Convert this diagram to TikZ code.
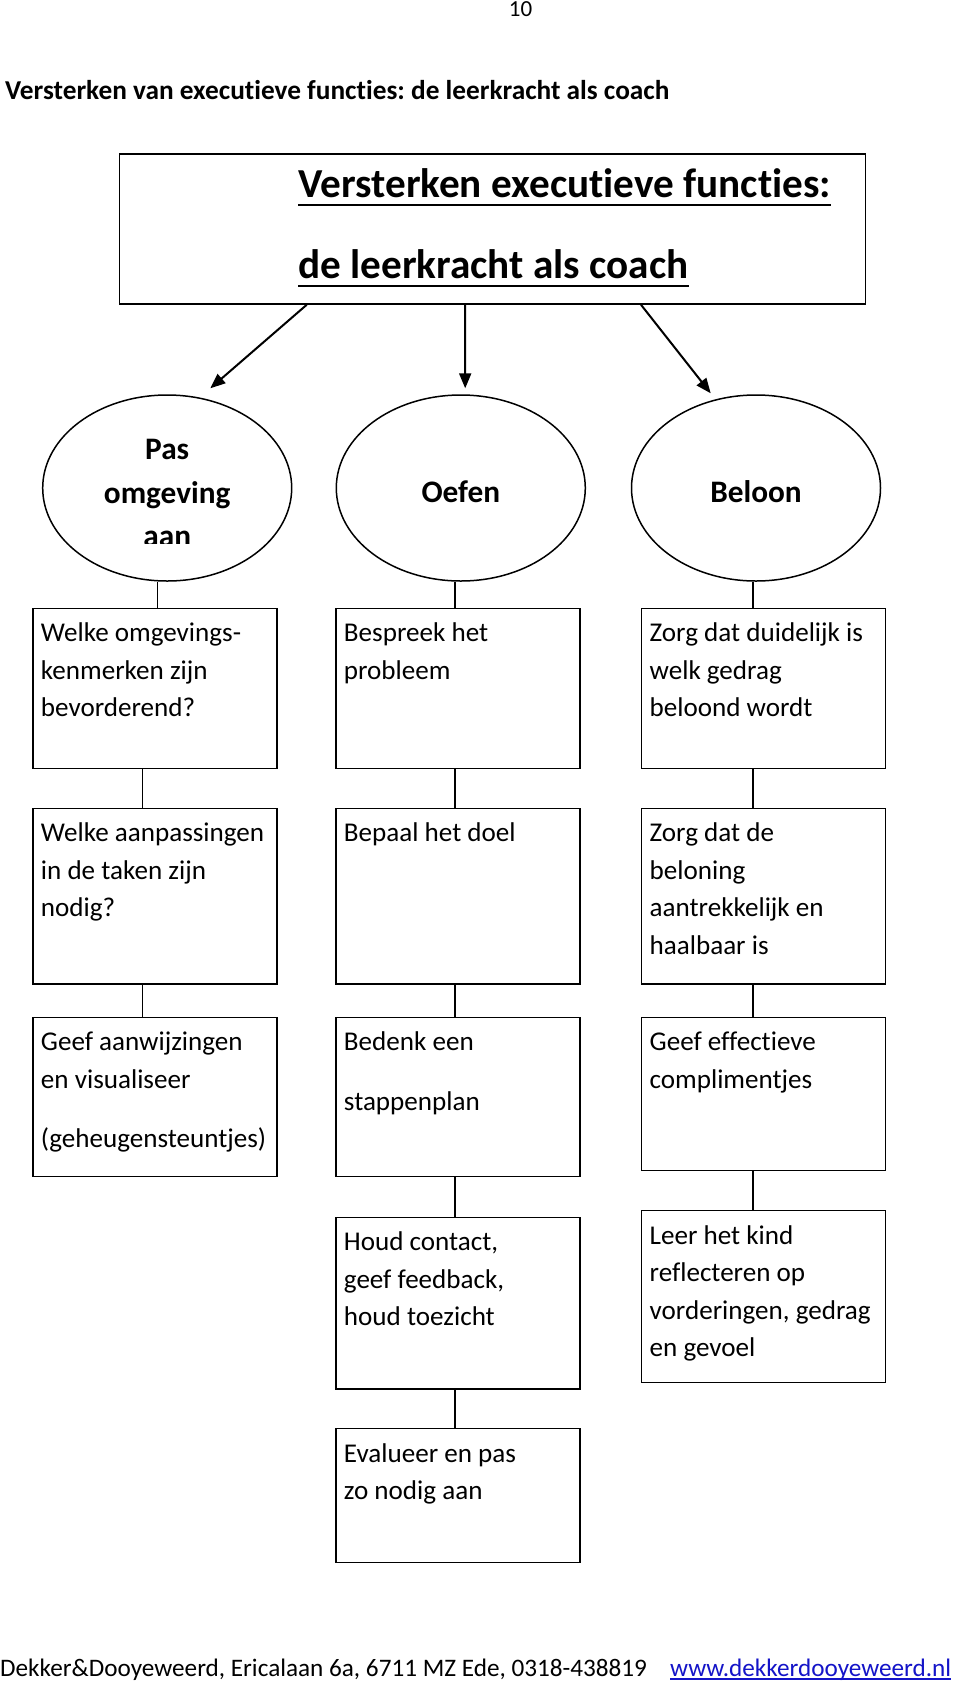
\documentclass[tikz,border=0pt]{standalone}
\usepackage{fontspec}
\setmainfont{Carlito}[Ligatures={NoCommon}]
\usetikzlibrary{arrows.meta,shapes.geometric}
\definecolor{linkblue}{RGB}{20,20,200}
\frenchspacing
\begin{document}
\begin{tikzpicture}[x=1pt,y=-1pt,
  box/.style={draw, line width=1.5pt, rectangle, inner sep=0pt, minimum width=244pt},
  ell/.style={draw, line width=1.5pt, ellipse, inner sep=0pt, minimum width=249pt, minimum height=186pt},
  txt/.style={inner sep=0pt, anchor=north west, align=left, font=\fontsize{27.1}{37.6}\selectfont},
  etxt/.style={inner sep=0pt, align=center, font=\bfseries\fontsize{31.3}{43.3}\selectfont},
  ttl/.style={inner sep=0pt, anchor=base west, font=\bfseries\fontsize{41.2}{48}\selectfont},
  link/.style={line width=1.5pt},
  arr/.style={line width=2pt, -{Triangle[length=15pt,width=12pt]}},
]
\fill[white] (0,0) rectangle (960,1684);
\useasboundingbox (0,0) rectangle (960,1684);

% page number and heading
\node[inner sep=0pt, anchor=base, font=\fontsize{23}{28}\selectfont] (pnum) at (520.5,16) {10};
\node[inner sep=0pt, anchor=base west, font=\bfseries\fontsize{27.3}{33}\selectfont] (head) at (5,99.3) {Versterken van executieve functies: de leerkracht als coach};

% title box
\node[draw, line width=1.5pt, rectangle, inner sep=0pt, minimum width=745.9pt, minimum height=150pt] (title) at (492.35,229) {};
\node[ttl] (tl1) at (298.2,197.5) {Versterken executieve functies:};
\node[ttl] (tl2) at (298.2,278.5) {de leerkracht als coach};
\draw[line width=2.7pt] ([yshift=-7.5pt]tl1.base west) -- ([yshift=-7.5pt]tl1.base east);
\draw[line width=2.7pt] ([yshift=-7.5pt]tl2.base west) -- ([yshift=-7.5pt]tl2.base east);

% ellipses
\node[ell] (e1) at (167.2,488) {};
\node[ell] (e2) at (460.8,488) {};
\node[ell] (e3) at (756,488) {};
\begin{scope}
\clip (30,380) rectangle (310,543);
\node[etxt, anchor=north] (et1) at (167.2,429.2) {\strut Pas\\omgeving\\aan};
\end{scope}
\node[etxt, anchor=base] (et2) at (460.8,502.7) {Oefen};
\node[etxt, anchor=base] (et3) at (756,502.7) {Beloon};

% arrows
\coordinate (a1e) at (210.3,388.3);
\coordinate (a2e) at (465.2,388.3);
\coordinate (a3e) at (710.7,393.3);
\draw[arr] ([xshift=-185.6pt]title.south) -- (a1e);
\draw[arr] ([xshift=-27.15pt]title.south) -- (a2e);
\draw[arr] ([xshift=148.65pt]title.south) -- (a3e);

% boxes
\node[box, minimum height=160pt] (b11) at (155,688.3) {};
\node[box, minimum height=160pt] (b12) at (458,688.3) {};
\node[box, minimum height=160pt] (b13) at (763.7,688.3) {};
\node[box, minimum height=175.7pt] (b21) at (155,896.15) {};
\node[box, minimum height=175.7pt] (b22) at (458,896.15) {};
\node[box, minimum height=175.7pt] (b23) at (763.7,896.15) {};
\node[box, minimum height=159.4pt] (b31) at (155,1097) {};
\node[box, minimum height=159.4pt] (b32) at (458,1097) {};
\node[box, minimum height=153.4pt] (b33) at (763.7,1094) {};
\node[box, minimum height=171.7pt] (b42) at (458,1303.15) {};
\node[box, minimum height=171.6pt] (b43) at (763.7,1296.5) {};
\node[box, minimum height=134pt] (b52) at (458,1495.7) {};

% box texts
\node[txt] (t11) at ([xshift=8.5pt,yshift=-7.7pt]b11.north west) {\strut Welke omgevings-\\kenmerken zijn\\bevorderend?};
\node[txt] (t12) at ([xshift=8.5pt,yshift=-7.7pt]b12.north west) {\strut Bespreek het\\probleem};
\node[txt] (t13) at ([xshift=8.5pt,yshift=-7.7pt]b13.north west) {\strut Zorg dat duidelijk is\\welk gedrag\\beloond wordt};
\node[txt] (t21) at ([xshift=8.5pt,yshift=-7.7pt]b21.north west) {\strut Welke aanpassingen\\in de taken zijn\\nodig?};
\node[txt] (t22) at ([xshift=8.5pt,yshift=-7.7pt]b22.north west) {\strut Bepaal het doel};
\node[txt] (t23) at ([xshift=8.5pt,yshift=-7.7pt]b23.north west) {\strut Zorg dat de\\beloning\\aantrekkelijk en\\haalbaar is};
\node[txt] (t31) at ([xshift=8.5pt,yshift=-7.7pt]b31.north west) {\strut Geef aanwijzingen\\en visualiseer\\[22pt](geheugensteuntjes)};
\node[txt] (t32) at ([xshift=8.5pt,yshift=-7.7pt]b32.north west) {\strut Bedenk een\\[22pt]stappenplan};
\node[txt] (t33) at ([xshift=8.5pt,yshift=-7.7pt]b33.north west) {\strut Geef effectieve\\complimentjes};
\node[txt] (t42) at ([xshift=8.5pt,yshift=-7.7pt]b42.north west) {\strut Houd contact,\\geef feedback,\\houd toezicht};
\node[txt] (t43) at ([xshift=8.5pt,yshift=-7.7pt]b43.north west) {\strut Leer het kind\\reflecteren op\\vorderingen, gedrag\\en gevoel};
\node[txt] (t52) at ([xshift=8.5pt,yshift=-7.7pt]b52.north west) {\strut Evalueer en pas\\zo nodig aan};

% connectors
\draw[link] ([xshift=-9.7pt]e1.south) -- ([xshift=2.5pt]b11.north);
\draw[link] ([xshift=-5.8pt]e2.south) -- ([xshift=-3pt]b12.north);
\draw[link] ([xshift=-3pt]e3.south) -- ([xshift=-10.7pt]b13.north);
\draw[link] ([xshift=-12.3pt]b11.south) -- ([xshift=-12.3pt]b21.north);
\draw[link] ([xshift=-12.3pt]b21.south) -- ([xshift=-12.3pt]b31.north);
\draw[link] ([xshift=-3pt]b12.south) -- ([xshift=-3pt]b22.north);
\draw[link] ([xshift=-3pt]b22.south) -- ([xshift=-3pt]b32.north);
\draw[link] ([xshift=-3pt]b32.south) -- ([xshift=-3pt]b42.north);
\draw[link] ([xshift=-3pt]b42.south) -- ([xshift=-3pt]b52.north);
\draw[link] ([xshift=-10.7pt]b13.south) -- ([xshift=-10.7pt]b23.north);
\draw[link] ([xshift=-10.7pt]b23.south) -- ([xshift=-10.7pt]b33.north);
\draw[link] ([xshift=-10.7pt]b33.south) -- ([xshift=-10.7pt]b43.north);

% footer
\node[inner sep=0pt, anchor=base west, font=\fontsize{25.2}{30}\selectfont] (foot) at (0,1676) {Dekker\&Dooyeweerd, Ericalaan 6a, 6711 MZ Ede, 0318-438819};
\node[inner sep=0pt, anchor=base west, font=\fontsize{25.2}{30}\selectfont, text=linkblue] (web) at (670,1676) {www.dekkerdooyeweerd.nl};
\draw[linkblue, line width=1.5pt] ([yshift=-3pt]web.base west) -- ([yshift=-3pt]web.base east);
\end{tikzpicture}
\end{document}
